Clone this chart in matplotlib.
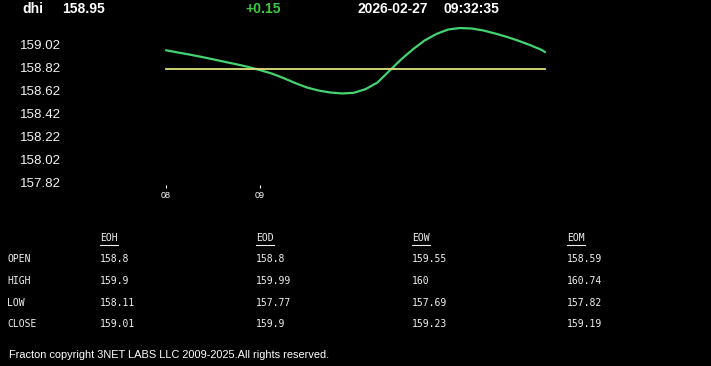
import matplotlib.pyplot as plt

# quote header
symbol = "dhi"
last_price = "158.95"
change = "+0.15"
quote_date = "2026-02-27"
quote_time = "09:32:35"

# intraday price, every 1/8 hour
hours = [8.0, 8.125, 8.25, 8.375, 8.5, 8.625, 8.75, 8.875, 9.0, 9.125, 9.25,
         9.375, 9.5, 9.625, 9.75, 9.875, 10.0, 10.125, 10.25, 10.375, 10.5,
         10.625, 10.75, 10.875, 11.0, 11.125, 11.25, 11.375, 11.5, 11.625,
         11.75, 11.875, 12.0, 12.032]
prices = [158.966, 158.947, 158.929, 158.909, 158.888, 158.866, 158.845,
          158.822, 158.795, 158.765, 158.726, 158.683, 158.644, 158.618,
          158.601, 158.593, 158.599, 158.631, 158.688, 158.787, 158.886,
          158.973, 159.050, 159.106, 159.145, 159.158, 159.154, 159.137,
          159.111, 159.082, 159.048, 159.010, 158.968, 158.95]
open_price = 158.8

y_ticks = [159.02, 158.82, 158.62, 158.42, 158.22, 158.02, 157.82]
x_ticks = [8, 9]
x_tick_labels = ["08", "09"]

# summary table
periods = ["EOH", "EOD", "EOW", "EOM"]
row_names = ["OPEN", "HIGH", "LOW", "CLOSE"]
table_values = [
    ["158.8", "158.8", "159.55", "158.59"],
    ["159.9", "159.99", "160", "160.74"],
    ["158.11", "157.77", "157.69", "157.82"],
    ["159.01", "159.9", "159.23", "159.19"],
]
footer = "Fracton copyright 3NET LABS LLC 2009-2025.All rights reserved."

W, H = 711, 366
fig = plt.figure(figsize=(W / 100, H / 100), dpi=100, facecolor="black")


def fx(px):
    return px / W


def fy(py):
    return 1 - py / H


# plot area in pixels: x 70..600, y 15..185
ax = fig.add_axes([fx(70), fy(185), fx(530), (185 - 15) / H])
ax.set_facecolor("black")
ax.plot(hours, prices, color="#45d36f", lw=1.6, solid_capstyle="round",
        solid_joinstyle="round")
ax.plot([hours[0], hours[-1]], [open_price, open_price], color="#dde27c", lw=1.3)
ax.set_xlim(8 - 96 / 94, 8 + 434 / 94)
ax.set_ylim(157.82 - 2 / 115.8, 159.02 + 29 / 115.8)
ax.set_yticks(y_ticks)
ax.set_yticklabels([f"{v:.2f}" for v in y_ticks])
ax.set_xticks(x_ticks)
ax.set_xticklabels(x_tick_labels)
ax.tick_params(axis="y", length=0, pad=6.5, labelcolor="#f2f2f2", labelsize=9.6)
ax.tick_params(axis="x", length=2.5, width=0.8, color="white", pad=1.5,
               labelcolor="white", labelsize=6.5)
for lab in ax.get_yticklabels() + ax.get_xticklabels():
    lab.set_family("Liberation Sans")
for s in ax.spines.values():
    s.set_visible(False)

# header
hdr = dict(color="white", fontsize=10, fontweight="bold", family="Liberation Sans", va="center")
fig.text(fx(22), fy(9), symbol, **hdr)
fig.text(fx(62), fy(9), last_price, **hdr)
fig.text(fx(245), fy(9), change, **{**hdr, "color": "#3bcc3b"})
fig.text(fx(358), fy(9), quote_date, **hdr)
fig.text(fx(444), fy(9), quote_time, **hdr)

# table
tbl = dict(color="#f0f0f0", fontsize=7, family="DejaVu Sans Mono", va="center")
col_x = [100, 256, 412, 567]
row_y = [259, 281, 303, 324]
renderer = fig.canvas.get_renderer()
for cx, name in zip(col_x, periods):
    t = fig.text(fx(cx), fy(238), name, **tbl)
    bb = t.get_window_extent(renderer)
    fig.add_artist(plt.Line2D([fx(cx), fx(cx + bb.width)], [fy(245), fy(245)],
                              color="#f0f0f0", lw=0.8))
for ry, name, vals in zip(row_y, row_names, table_values):
    fig.text(fx(7), fy(ry), name, **tbl)
    for cx, v in zip(col_x, vals):
        fig.text(fx(cx), fy(ry), v, **tbl)

fig.text(fx(9), fy(355), footer, color="white", fontsize=7.9,
         family="Liberation Sans", va="center")

fig.savefig("out.png", dpi=100, facecolor="black")
